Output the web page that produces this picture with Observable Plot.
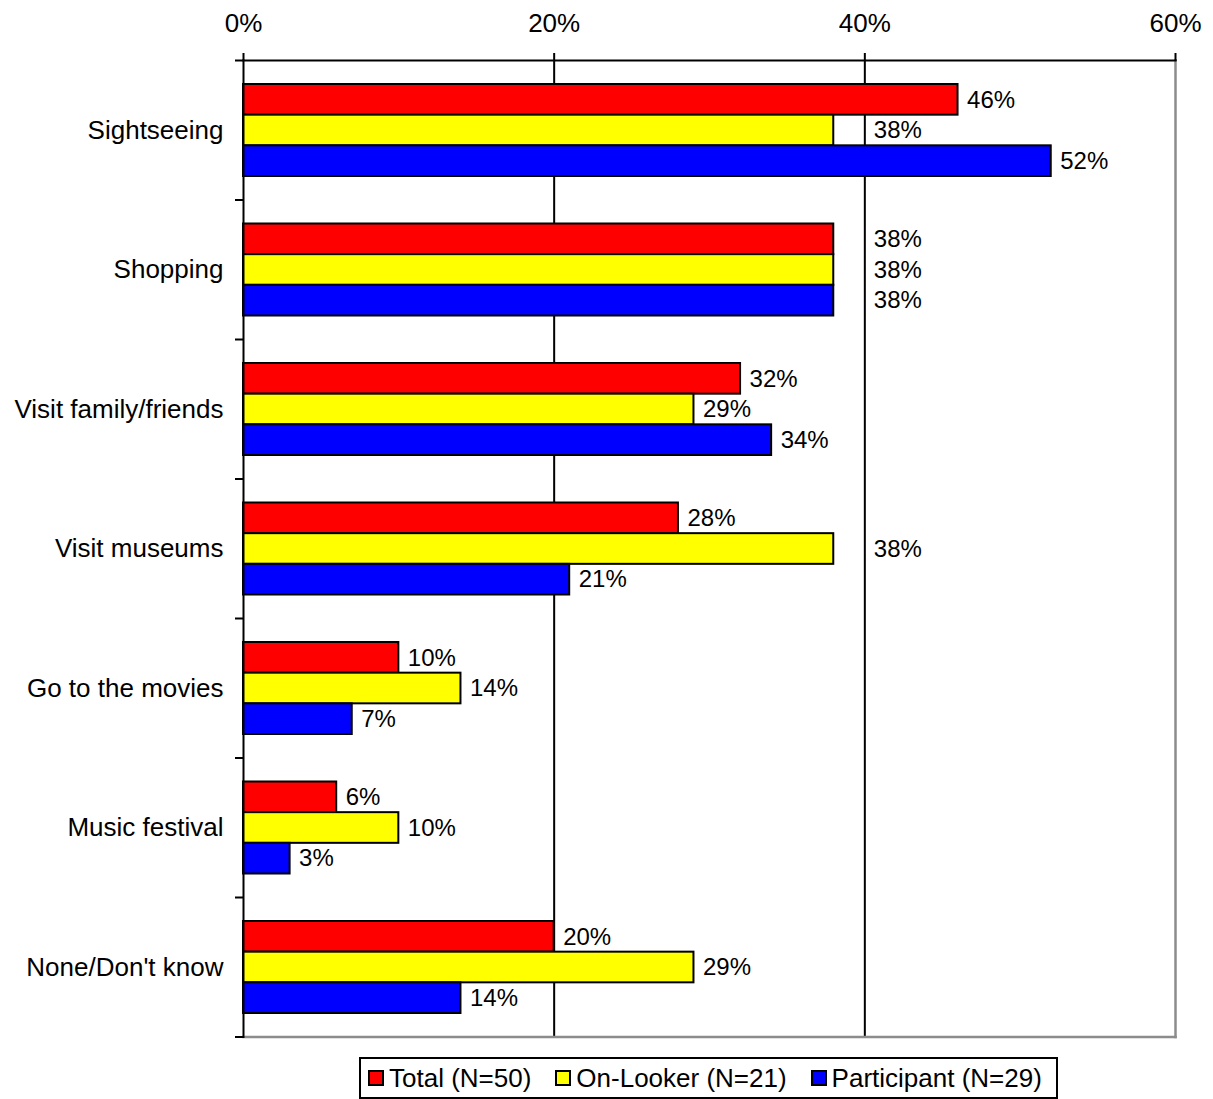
<!DOCTYPE html>
<html>
<head>
<meta charset="utf-8">
<script src="https://cdn.jsdelivr.net/npm/d3@7"></script>
<script src="https://cdn.jsdelivr.net/npm/@observablehq/plot@0.6"></script>
<style>
  html, body { margin: 0; padding: 0; background: #fff; }
  body { width: 1213px; font-family: "Liberation Sans", Arial, sans-serif; color: #000; }
  #chart svg { display: block; }
  .legend {
    position: absolute; left: 359px; top: 1057px; width: 695px; height: 38px;
    border: 2px solid #000; box-sizing: content-box; padding-left: 0;
    display: flex; align-items: center; justify-content: flex-start; gap: 24px;
    font-size: 26px; white-space: nowrap;
  }
  .legend .item { display: flex; align-items: center; gap: 5px; }
  .legend .item:first-child { margin-left: 7px; }
  .legend .sw { width: 16px; height: 16px; border: 2px solid #000; box-sizing: border-box; }
</style>
</head>
<body>
<div id="chart"></div>
<div class="legend" id="legend"></div>
<script>
// Reasons for visiting, share of respondents per group (%)
const categories = ["Sightseeing", "Shopping", "Visit family/friends", "Visit museums", "Go to the movies", "Music festival", "None/Don't know"];
const seriesNames = ["Total (N=50)", "On-Looker (N=21)", "Participant (N=29)"];
const seriesColors = ["#ff0000", "#ffff00", "#0000ff"];
const totalValues = [46, 38, 32, 28, 10, 6, 20];
const onLookerValues = [38, 38, 29, 38, 14, 10, 29];
const participantValues = [52, 38, 34, 21, 7, 3, 14];
const xTicks = [0, 20, 40, 60];
const gridLines = [20, 40];

const seriesValues = [totalValues, onLookerValues, participantValues];

// Long-format rows: one per category and group
const rows = [];
seriesValues.forEach((vals, s) => {
  vals.forEach((v, c) => rows.push({category: categories[c], series: seriesNames[s], index: s, value: v}));
});

const width = 1213, height = 1050;
const marginTop = 60, marginBottom = 13.5, marginLeft = 243, marginRight = 38;
const band = (height - marginTop - marginBottom) / categories.length;
const groupPad = 24;                       // space above the group of bars in each band
const barH = (band - 2 * groupPad + 0.5) / 3;
const pxPerUnit = (width - marginLeft - marginRight) / 60;

// A value label that would run across the 40% gridline is moved just past it
const labelX = (v) => (v < 40 && v + 56 / pxPerUnit > 40 ? 40 : v);

const barMarks = seriesNames.map((name, s) =>
  Plot.barX(rows.filter(d => d.index === s), {
    x: "value",
    y: "category",
    fill: seriesColors[s],
    stroke: "#000",
    strokeWidth: 2,
    insetTop: groupPad + barH * s,
    insetBottom: band - groupPad - barH * (s + 1)
  })
);

const labelMarks = seriesNames.map((name, s) =>
  Plot.text(rows.filter(d => d.index === s), {
    x: d => labelX(d.value),
    y: "category",
    text: d => d.value + "%",
    textAnchor: "start",
    dx: 9,
    dy: groupPad + barH * (s + 0.5) - band / 2,
    fontSize: 24,
    fill: "#000"
  })
);

const chart = Plot.plot({
  width, height, marginTop, marginBottom, marginLeft, marginRight,
  style: {fontFamily: "'Liberation Sans', Arial, sans-serif", fontSize: "26px", color: "#000", background: "#fff"},
  x: {domain: [0, 60], axis: null},
  y: {domain: categories, padding: 0, round: false, axis: null},
  marks: [
    // vertical gridlines
    Plot.ruleX(gridLines, {stroke: "#000", strokeWidth: 2}),
    // gray right and bottom border of the plot area
    Plot.frame({anchor: "right", stroke: "#8c8c8c", strokeWidth: 2.5}),
    Plot.frame({anchor: "bottom", stroke: "#8c8c8c", strokeWidth: 2.5}),
    ...barMarks,
    ...labelMarks,
    // top axis
    Plot.axisX({
      anchor: "top", ticks: xTicks, tickFormat: d => d + "%", label: null,
      tickSize: 8, tickPadding: 21, fontSize: 26, strokeWidth: 2, stroke: "#000"
    }),
    Plot.frame({anchor: "top", stroke: "#000", strokeWidth: 2}),
    Plot.frame({anchor: "left", stroke: "#000", strokeWidth: 2}),
    // category labels
    Plot.axisY({anchor: "left", tickSize: 0, tickPadding: 20, fontSize: 26, label: null}),
    // tick marks on the category boundaries
    Plot.ruleY(categories, {y: d => d, x1: -8 / pxPerUnit, x2: 0, dy: -band / 2, stroke: "#000", strokeWidth: 2, clip: false}),
    Plot.ruleY(categories.slice(-1), {y: d => d, x1: -8 / pxPerUnit, x2: 0, dy: band / 2, stroke: "#000", strokeWidth: 2, clip: false})
  ]
});

document.getElementById("chart").append(chart);

// Legend box below the plot
const legend = document.getElementById("legend");
seriesNames.forEach((name, s) => {
  const item = document.createElement("div");
  item.className = "item";
  const sw = document.createElement("div");
  sw.className = "sw";
  sw.style.background = seriesColors[s];
  const label = document.createElement("span");
  label.textContent = name;
  item.append(sw, label);
  legend.append(item);
});
</script>
</body>
</html>
